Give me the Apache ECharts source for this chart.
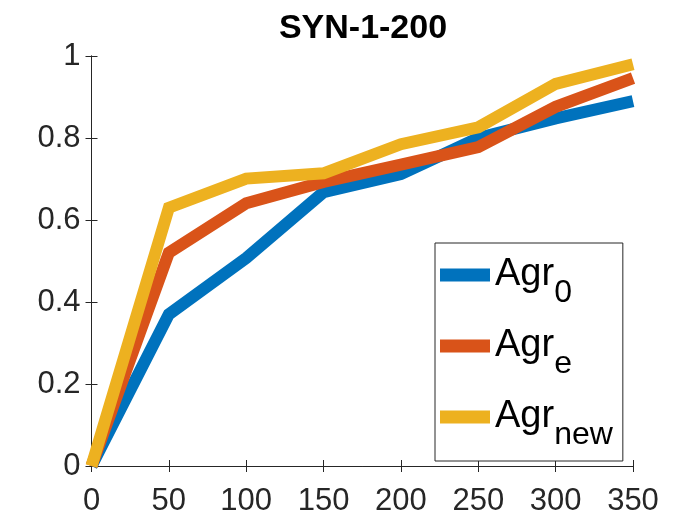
<!DOCTYPE html>
<html>
<head>
<meta charset="utf-8">
<script src="https://cdn.jsdelivr.net/npm/echarts@6/dist/echarts.min.js"></script>
<style>html,body{margin:0;padding:0;background:#fff}#c{width:700px;height:525px}</style>
</head>
<body>
<div id="c"></div>
<script>
const titleText = 'SYN-1-200';
const xValues = [0, 50, 100, 150, 200, 250, 300, 350];
const agr0 = [0, 0.37, 0.507, 0.668, 0.712, 0.800, 0.848, 0.890];
const agrE = [0, 0.52, 0.641, 0.693, 0.735, 0.778, 0.876, 0.946];
const agrNew = [0, 0.630, 0.701, 0.714, 0.785, 0.826, 0.932, 0.980];
const seriesNames = ['Agr0', 'Agre', 'Agrnew'];
const seriesColors = ['#0072BD', '#D95319', '#EDB120'];
const seriesValues = [agr0, agrE, agrNew];

const font = '"Liberation Sans", Arial, Helvetica, sans-serif';
const axisColor = '#262626';
const chart = echarts.init(document.getElementById('c'));

const baseX = {
  type: 'value', min: 0, max: 350, interval: 50,
  axisLine: { show: true, lineStyle: { color: axisColor, width: 1 } },
  axisTick: { show: true, inside: true, length: 6, lineStyle: { color: axisColor } },
  splitLine: { show: false }
};
const baseY = {
  type: 'value', min: 0, max: 1, interval: 0.2,
  axisLine: { show: true, lineStyle: { color: axisColor, width: 1 } },
  axisTick: { show: true, inside: true, length: 6, lineStyle: { color: axisColor } },
  splitLine: { show: false }
};

chart.setOption({
  animation: false,
  backgroundColor: '#fff',
  title: {
    text: titleText, left: 363, top: 12, textAlign: 'center',
    textStyle: { fontFamily: font, fontSize: 34, fontWeight: 'bold', color: '#000' },
    padding: 0
  },
  grid: { left: 91.5, right: 67, top: 56, bottom: 59 },
  xAxis: [
    Object.assign({}, baseX, { position: 'bottom',
      axisLabel: { show: true, fontFamily: font, fontSize: 31, color: axisColor, margin: 20,
        formatter: v => String(v) } }),
    Object.assign({}, baseX, { position: 'top', axisLabel: { show: false } })
  ],
  yAxis: [
    Object.assign({}, baseY, { position: 'left',
      axisLabel: { show: true, fontFamily: font, fontSize: 31, color: axisColor, margin: 11,
        formatter: v => (Math.round(v * 10) / 10).toString() } }),
    Object.assign({}, baseY, { position: 'right', axisLabel: { show: false } })
  ],
  legend: {
    orient: 'vertical', left: 435, top: 243,
    width: 186,
    padding: [13, 10, 10, 5],
    borderColor: axisColor, borderWidth: 1,
    backgroundColor: '#fff',
    itemWidth: 50, itemHeight: 13, icon: 'rect',
    itemGap: 18,
    data: seriesNames,
    formatter: n => '{a|Agr}{s|' + n.substring(3) + '}',
    textStyle: {
      color: '#000',
      rich: {
        a: { fontFamily: font, fontSize: 38, color: '#000', lineHeight: 40 },
        s: { fontFamily: font, fontSize: 32, color: '#000', padding: [36, 0, 0, 0] }
      }
    }
  },
  series: seriesValues.map((vals, i) => ({
    name: seriesNames[i],
    type: 'line',
    data: xValues.map((x, j) => [x, vals[j]]),
    showSymbol: false, symbol: 'none',
    clip: false,
    color: seriesColors[i],
    lineStyle: { width: 12, color: seriesColors[i], cap: 'butt', join: 'miter' },
    z: 2 + i
  }))
});
</script>
</body>
</html>
